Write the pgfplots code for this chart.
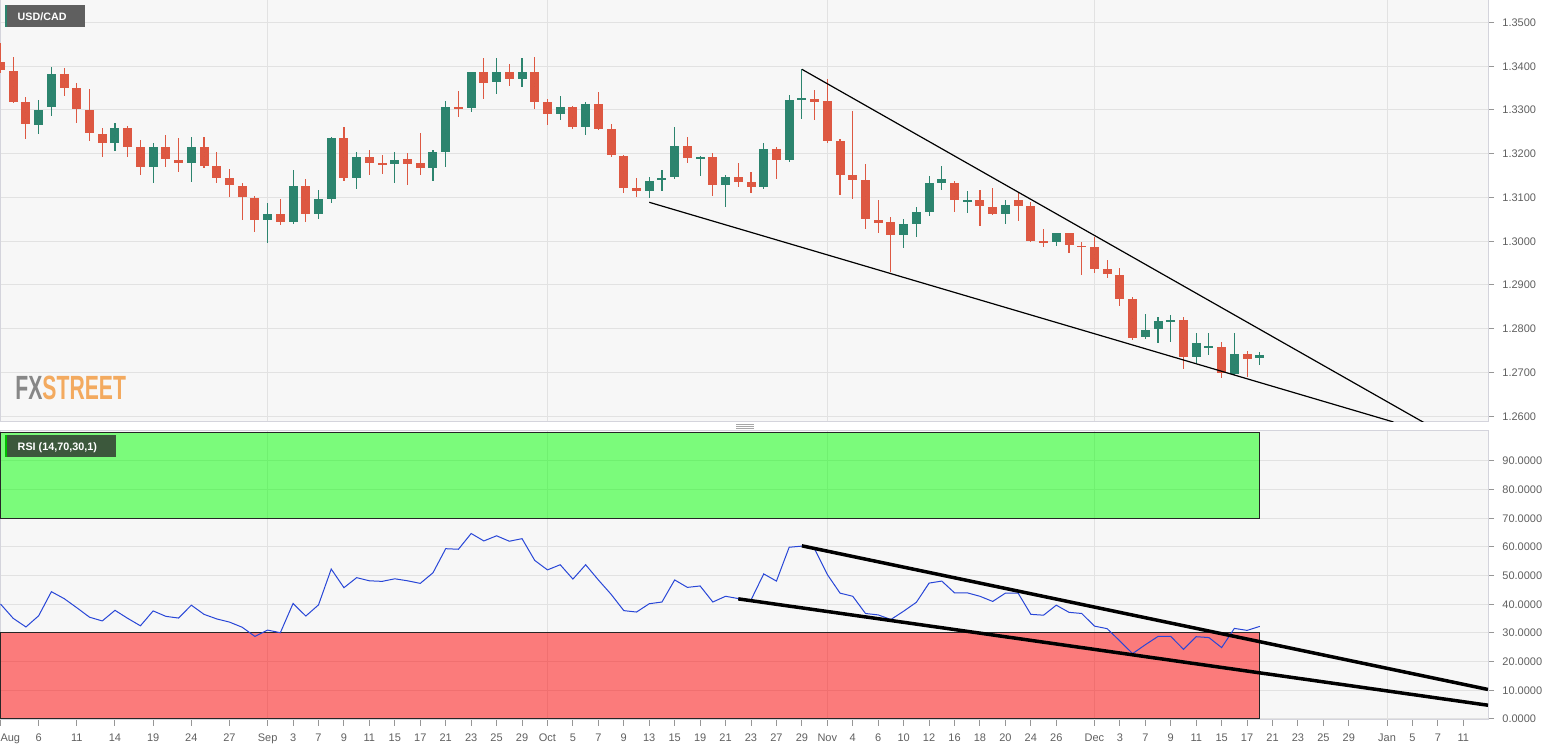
\documentclass[border=0pt]{standalone}
\usepackage{fontspec}
\setmainfont{Liberation Sans}
\usepackage{graphicx}
\usepackage{pgfplots}
\usepackage{pgfplotstable}
\pgfplotsset{compat=1.18}

\definecolor{bg}{RGB}{247,247,247}
\definecolor{gridcol}{RGB}{226,226,226}
\definecolor{bordercol}{RGB}{212,212,220}
\definecolor{tickcol}{RGB}{150,150,150}
\definecolor{labcol}{RGB}{95,95,95}
\definecolor{cRed}{RGB}{221,88,66}
\definecolor{cGreen}{RGB}{44,132,110}
\definecolor{rsiblue}{RGB}{40,70,215}
\definecolor{zoneGreen}{RGB}{0,255,0}
\definecolor{zoneRed}{RGB}{255,0,0}
\definecolor{boxgray}{RGB}{95,95,95}
\definecolor{boxgreen}{RGB}{60,88,60}
\definecolor{fxgray}{RGB}{135,135,135}
\definecolor{fxorange}{RGB}{243,170,95}

% idx o h l c  (idx = weekday count from 3 Aug 2020)
\pgfplotstableread{
i o h l c
0 1.34103 1.34524 1.33850 1.33914
1 1.33898 1.34205 1.33150 1.33190
2 1.33190 1.33304 1.32330 1.32673
5 1.33823 1.33953 1.33327 1.33510
6 1.33496 1.33610 1.32696 1.33016
7 1.33000 1.33473 1.32291 1.32467
8 1.32451 1.32582 1.31933 1.32253
10 1.32589 1.32641 1.31933 1.32154
11 1.32147 1.32314 1.31514 1.31690
13 1.32154 1.32429 1.31704 1.31873
14 1.31857 1.32353 1.31590 1.31781
16 1.32162 1.32390 1.31667 1.31727
17 1.31727 1.32047 1.31325 1.31439
18 1.31439 1.31651 1.31018 1.31279
19 1.31270 1.31325 1.30486 1.31005
20 1.30995 1.31041 1.30205 1.30479
22 1.30623 1.30959 1.30365 1.30447
24 1.31270 1.31416 1.30440 1.30630
27 1.32360 1.32619 1.31377 1.31453
29 1.31919 1.32086 1.31507 1.31781
30 1.31796 1.31971 1.31530 1.31750
32 1.31873 1.32010 1.31286 1.31773
33 1.31781 1.32467 1.31507 1.31681
36 1.33076 1.33442 1.32833 1.33030
38 1.33862 1.34182 1.33245 1.33624
40 1.33869 1.34051 1.33549 1.33715
42 1.33869 1.34205 1.33016 1.33190
43 1.33183 1.33245 1.32657 1.32901
45 1.33076 1.33100 1.32559 1.32604
47 1.33130 1.33405 1.32540 1.32559
48 1.32559 1.32673 1.31933 1.31971
49 1.31956 1.31980 1.31096 1.31224
50 1.31217 1.31453 1.31005 1.31149
54 1.32177 1.32376 1.31781 1.31896
56 1.31926 1.32024 1.31041 1.31286
58 1.31461 1.31781 1.31233 1.31361
59 1.31347 1.31590 1.31096 1.31247
61 1.32109 1.32150 1.31416 1.31857
64 1.33251 1.33457 1.32771 1.33190
65 1.33200 1.33710 1.32253 1.32300
66 1.32291 1.32345 1.31057 1.31514
67 1.31521 1.32984 1.30959 1.31400
68 1.31400 1.31766 1.30273 1.30501
69 1.30486 1.30943 1.30195 1.30424
70 1.30440 1.30547 1.29304 1.30136
75 1.31338 1.31380 1.30661 1.30943
77 1.30935 1.31171 1.30356 1.30813
78 1.30790 1.31224 1.30590 1.30616
80 1.30943 1.31119 1.30463 1.30813
81 1.30813 1.30890 1.29990 1.30006
82 1.29990 1.30280 1.29875 1.29967
84 1.30181 1.30200 1.29738 1.29914
85 1.29891 1.29990 1.29229 1.29875
86 1.29861 1.30104 1.29282 1.29366
87 1.29358 1.29571 1.29153 1.29251
88 1.29229 1.29381 1.28527 1.28680
89 1.28680 1.28733 1.27743 1.27796
93 1.28200 1.28276 1.27073 1.27361
96 1.27590 1.27704 1.26867 1.26982
98 1.27416 1.27498 1.26890 1.27309
}\redtab

\pgfplotstableread{
i o h l c
3 1.32657 1.33229 1.32444 1.33000
4 1.33062 1.33976 1.32863 1.33823
9 1.32253 1.32710 1.32063 1.32589
12 1.31690 1.32253 1.31338 1.32147
15 1.31781 1.32376 1.31361 1.32162
21 1.30493 1.30867 1.29953 1.30630
23 1.30447 1.31629 1.30394 1.31270
25 1.30630 1.31171 1.30516 1.30966
26 1.30966 1.32380 1.30867 1.32360
28 1.31453 1.32033 1.31187 1.31919
31 1.31759 1.32040 1.31338 1.31857
34 1.31681 1.32086 1.31377 1.32040
35 1.32040 1.33206 1.31704 1.33069
37 1.33053 1.33870 1.32947 1.33862
39 1.33647 1.34182 1.33359 1.33876
41 1.33715 1.34182 1.33518 1.33869
44 1.32901 1.33320 1.32771 1.33076
46 1.32618 1.33183 1.32429 1.33130
51 1.31156 1.31476 1.30982 1.31384
52 1.31400 1.31629 1.31156 1.31446
53 1.31476 1.32604 1.31416 1.32177
55 1.31888 1.31950 1.31491 1.31926
57 1.31286 1.31520 1.30790 1.31461
60 1.31247 1.32253 1.31200 1.32109
62 1.31857 1.33343 1.31804 1.33229
63 1.33229 1.33930 1.32787 1.33267
71 1.30136 1.30501 1.29839 1.30387
72 1.30394 1.30776 1.30104 1.30661
73 1.30669 1.31491 1.30577 1.31325
74 1.31338 1.31727 1.31171 1.31430
76 1.30920 1.31156 1.30653 1.30935
79 1.30616 1.30943 1.30394 1.30829
83 1.29975 1.30200 1.29898 1.30181
90 1.27819 1.28330 1.27766 1.27971
91 1.27987 1.28276 1.27681 1.28177
92 1.28170 1.28314 1.27704 1.28185
94 1.27361 1.27910 1.27224 1.27667
95 1.27580 1.27896 1.27400 1.27595
97 1.26959 1.27896 1.26940 1.27416
99 1.27325 1.27462 1.27171 1.27400
}\greentab

\pgfplotstableread{
i v
0 40.1
1 35.1
2 32.1
3 36.0
4 44.4
5 42.0
6 38.8
7 35.5
8 34.2
9 37.9
10 35.1
11 32.5
12 37.7
13 35.8
14 35.2
15 39.7
16 36.5
17 34.9
18 33.8
19 32.0
20 28.8
21 31.0
22 30.1
23 40.3
24 35.9
25 39.8
26 52.3
27 45.8
28 49.3
29 48.2
30 48.0
31 48.9
32 48.2
33 47.3
34 51.0
35 59.4
36 59.2
37 64.7
38 62.1
39 63.9
40 62.0
41 62.9
42 55.3
43 52.0
44 53.8
45 48.8
46 53.8
47 48.5
48 43.5
49 37.8
50 37.3
51 40.2
52 40.8
53 48.5
54 45.9
55 46.4
56 40.8
57 42.8
58 42.0
59 41.5
60 50.6
61 48.1
62 59.9
63 60.3
64 59.3
65 50.4
66 43.9
67 42.8
68 36.8
69 36.3
70 34.7
71 37.6
72 40.7
73 47.4
74 48.1
75 44.0
76 44.0
77 42.8
78 41.0
79 43.9
80 43.9
81 36.5
82 36.2
83 39.7
84 37.2
85 36.8
86 32.4
87 31.5
88 27.2
89 22.8
90 25.9
91 28.8
92 28.8
93 24.3
94 28.7
95 28.4
96 24.9
97 31.6
98 30.9
99 32.3
}\rsitab

\pgfplotsset{
  common/.style={
    scale only axis,
    width=744pt,
    xmin=-0.04, xmax=116.94,
    axis background/.style={fill=bg},
    axis line style={draw=bordercol, line width=0.5pt},
    grid style={draw=gridcol, line width=0.5pt},
    ytick pos=right, yticklabel pos=right,
    tick align=outside,
    major tick length=3pt,
    every tick/.style={draw=tickcol, line width=0.5pt},
    tick label style={font=\fontsize{5.5}{6.6}\selectfont, text=labcol},
    yticklabel style={anchor=west, inner sep=0pt, xshift=4pt},
    y tick label style={/pgf/number format/fixed, /pgf/number format/fixed zerofill, /pgf/number format/precision=4, /pgf/number format/assume math mode=true},
  },
  wick/.style={only marks, mark size=0pt, mark options={draw=none, fill=none}, forget plot,
    error bars/.cd, y dir=both, y explicit, error mark=none,
    error bar style={line width=0.55pt, draw=#1}},
  body/.style={only marks, mark size=0pt, mark options={draw=none, fill=none}, forget plot,
    error bars/.cd, y dir=both, y explicit, error mark=none,
    error bar style={line width=4.5pt, draw=#1}},
}

\begin{document}
\begin{tikzpicture}
\useasboundingbox (0,0) rectangle (782.5pt,-373.5pt);

% ---------------- price panel ----------------
\begin{axis}[
  common,
  at={(0pt,0pt)}, anchor=north west,
  height=210.5pt,
  ymin=1.25891, ymax=1.35514,
  xtick={21,43,65,86,109}, xticklabels={}, xmajorgrids,
  xtick style={draw=none},
  ytick={1.26,1.27,1.28,1.29,1.30,1.31,1.32,1.33,1.34,1.35},
  ymajorgrids,
]
\addplot[wick=cRed] table[x=i, y expr={(\thisrow{h}+\thisrow{l})/2}, y error expr={(\thisrow{h}-\thisrow{l})/2}] {\redtab};
\addplot[wick=cGreen] table[x=i, y expr={(\thisrow{h}+\thisrow{l})/2}, y error expr={(\thisrow{h}-\thisrow{l})/2}] {\greentab};
\addplot[body=cRed] table[x=i, y expr={(\thisrow{o}+\thisrow{c})/2}, y error expr={max(abs(\thisrow{o}-\thisrow{c})/2,0.00018)}] {\redtab};
\addplot[body=cGreen] table[x=i, y expr={(\thisrow{o}+\thisrow{c})/2}, y error expr={max(abs(\thisrow{o}-\thisrow{c})/2,0.00018)}] {\greentab};
% falling wedge
\addplot[black, line width=0.6pt] coordinates {(63.0,1.33930) (112.0,1.25839)};
\addplot[black, line width=0.6pt] coordinates {(51.0,1.30890) (109.5,1.25869)};
\end{axis}

% ---------------- RSI panel ----------------
\begin{axis}[
  common,
  at={(0pt,-215.3pt)}, anchor=north west,
  height=144.7pt,
  ymin=-0.35, ymax=100.59,
  xtick pos=left,
  xtick={0,3,6,9,12,15,18,21,23,25,27,29,31,33,35,37,39,41,43,45,47,49,51,53,55,57,59,61,63,65,67,69,71,73,75,77,79,81,83,86,88,90,92,94,96,98,100,102,104,106,109,111,113,115},
  xticklabels={\makebox[0pt][l]{Aug},6,11,14,19,24,27,Sep,3,7,9,11,15,17,21,23,25,29,Oct,5,7,9,13,15,19,21,23,27,29,Nov,4,6,10,12,16,18,20,24,26,Dec,3,7,9,11,15,17,21,23,25,29,Jan,5,7,11},
  xticklabel style={anchor=base, yshift=-8pt},
  extra x ticks={21,43,65,86,109},
  extra x tick labels={},
  extra x tick style={grid=major, major tick length=0pt},
  ytick={0,10,20,30,40,50,60,70,80,90},
  ymajorgrids,
]
\addplot[draw=black!85, fill=zoneGreen, fill opacity=0.5, line width=0.5pt] coordinates {(-0.04,70) (99,70) (99,100) (-0.04,100)} --cycle;
\addplot[draw=black!85, fill=zoneRed, fill opacity=0.5, line width=0.5pt] coordinates {(-0.04,0) (99,0) (99,30) (-0.04,30)} --cycle;
\addplot[rsiblue, line width=0.5pt] table[x=i, y=v] {\rsitab};
\addplot[black, line width=1.75pt] coordinates {(63.0,60.4) (116.94,10.3)};
\addplot[black, line width=1.75pt] coordinates {(58.0,41.9) (116.94,4.8)};
\end{axis}

% ---------------- labels ----------------
\fill[boxgray] (2.5pt,-2.5pt) rectangle (42.5pt,-13.35pt);
\fill[cGreen] (2.5pt,-2.5pt) rectangle (3.65pt,-13.35pt);
\node[anchor=base west, inner sep=0pt, text=white, font=\bfseries\fontsize{5.35}{6}\selectfont] at (8.67pt,-10.35pt) {USD/CAD};

\fill[boxgreen] (2.5pt,-217.5pt) rectangle (58pt,-228.35pt);
\fill[green!75!black] (2.5pt,-217.5pt) rectangle (3.65pt,-228.35pt);
\node[anchor=base west, inner sep=0pt, text=white, font=\bfseries\fontsize{5.4}{6}\selectfont] at (8.67pt,-225.5pt) {RSI (14,70,30,1)};

\node[anchor=base west, inner sep=0pt] at (7.5pt,-200pt) {\scalebox{0.63}[1]{\fontsize{16.8}{18}\selectfont\bfseries\textcolor{fxgray}{FX}\textcolor{fxorange}{STREET}}};

% panel separator grip
\draw[gray!70, line width=0.5pt] (368pt,-212.2pt) -- (377pt,-212.2pt);
\draw[gray!70, line width=0.5pt] (368pt,-213.2pt) -- (377pt,-213.2pt);
\draw[gray!70, line width=0.5pt] (368pt,-214.2pt) -- (377pt,-214.2pt);
\end{tikzpicture}
\end{document}
